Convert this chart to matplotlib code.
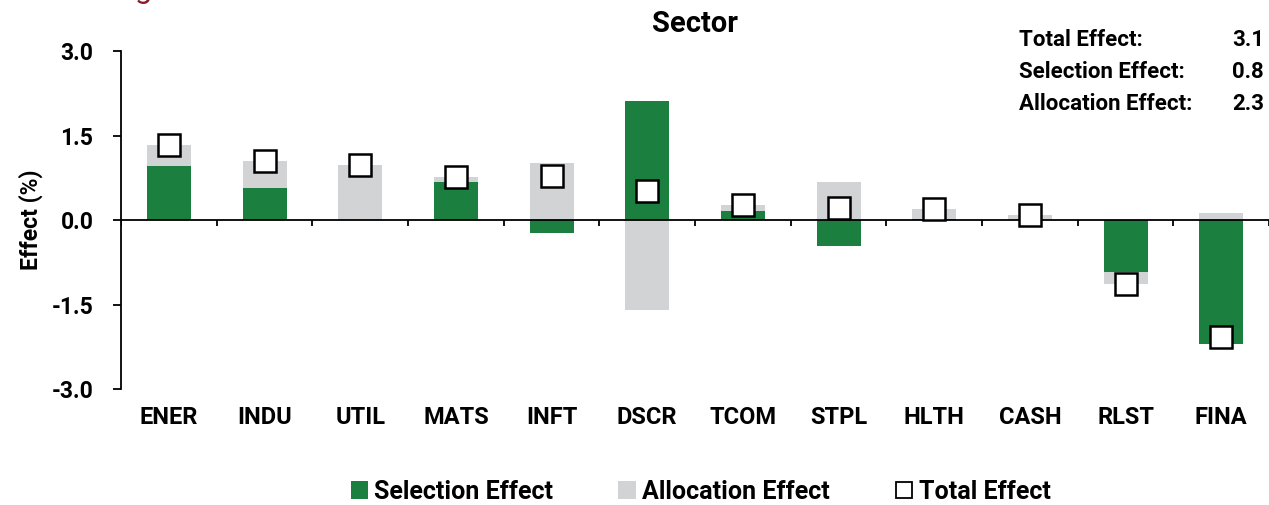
import numpy as np
import matplotlib.pyplot as plt
from matplotlib.patches import Patch
from matplotlib.lines import Line2D

plt.rcParams['font.family'] = ['Roboto', 'DejaVu Sans']
plt.rcParams['font.weight'] = 'bold'

# attribution by sector (%)
sectors = ['ENER', 'INDU', 'UTIL', 'MATS', 'INFT', 'DSCR',
           'TCOM', 'STPL', 'HLTH', 'CASH', 'RLST', 'FINA']
selection = [0.96, 0.57, 0.0, 0.67, -0.23, 2.11, 0.165, -0.46, 0.01, 0.0, -0.93, -2.20]
allocation = [0.37, 0.48, 0.98, 0.09, 1.01, -1.60, 0.095, 0.67, 0.19, 0.09, -0.21, 0.12]
summary_labels = ['Total Effect:', 'Selection Effect:', 'Allocation Effect:']
summary_values = ['3.1', '0.8', '2.3']

green = '#1a7f3f'
grey = '#d2d3d5'

sel = np.array(selection)
alloc = np.array(allocation)
total = sel + alloc
# allocation stacks on selection only when both have the same sign
alloc_base = np.where(np.sign(sel) == np.sign(alloc), sel, 0.0)

fig = plt.figure(figsize=(12.69, 5.05), dpi=100)
ax = fig.add_axes([0.0954, 0.2297, 0.9046, 0.6693])

x = np.arange(len(sectors))
w = 0.46
ax.bar(x, sel, width=w, color=green, zorder=2)
ax.bar(x, alloc, width=w, bottom=alloc_base, color=grey, zorder=2)
ax.plot(x, total, linestyle='none', marker='s', markersize=15.5,
        markerfacecolor='white', markeredgecolor='black', markeredgewidth=1.8, zorder=4)

ax.set_xlim(-0.5, len(sectors) - 0.5)
ax.set_ylim(-3.0, 3.0)

# zero line with category separators
ax.axhline(0, color='black', linewidth=1.3, zorder=3)
bounds = np.arange(len(sectors) + 1) - 0.5
ax.vlines(bounds, -0.11, 0, color='black', linewidth=1.3, zorder=3)

ax.set_yticks([-3.0, -1.5, 0.0, 1.5, 3.0])
ax.set_yticklabels(['-3.0', '-1.5', '0.0', '1.5', '3.0'])
ax.set_xticks(x)
ax.set_xticklabels(sectors)
ax.tick_params(axis='x', length=0, pad=12, labelsize=17)
ax.tick_params(axis='y', length=6, width=1.3, pad=14, labelsize=16.5)
for side in ['top', 'right', 'bottom']:
    ax.spines[side].set_visible(False)
ax.spines['left'].set_linewidth(1.3)

ax.set_ylabel('Effect (%)', fontsize=16.5, fontweight='bold', labelpad=6)
ax.set_title('Sector', fontsize=21, fontweight='bold', pad=14)

# summary box in the top right
for i, (lab, val) in enumerate(zip(summary_labels, summary_values)):
    yy = 1 - (40 + 32 * i) / 505
    fig.text(1019 / 1269, yy, lab, fontsize=16, fontweight='bold', va='center', ha='left')
    fig.text(1264 / 1269, yy, val, fontsize=16, fontweight='bold', va='center', ha='right')

# clipped heading above the chart
fig.text(0.106, 1.004, 'g', color='#8b1a2b', fontsize=22, fontweight='normal', va='baseline')

handles = [Patch(facecolor=green), Patch(facecolor=grey),
           Line2D([], [], linestyle='none', marker='s', markersize=12,
                  markerfacecolor='white', markeredgecolor='black', markeredgewidth=1.3)]
fig.legend(handles, ['Selection Effect', 'Allocation Effect', 'Total Effect'],
           loc='center', bbox_to_anchor=(0.552, 0.026), ncol=3, frameon=False,
           fontsize=18, handlelength=0.7, handleheight=0.7, handletextpad=0.25,
           columnspacing=2.6)

fig.savefig('out.png', dpi=100)
